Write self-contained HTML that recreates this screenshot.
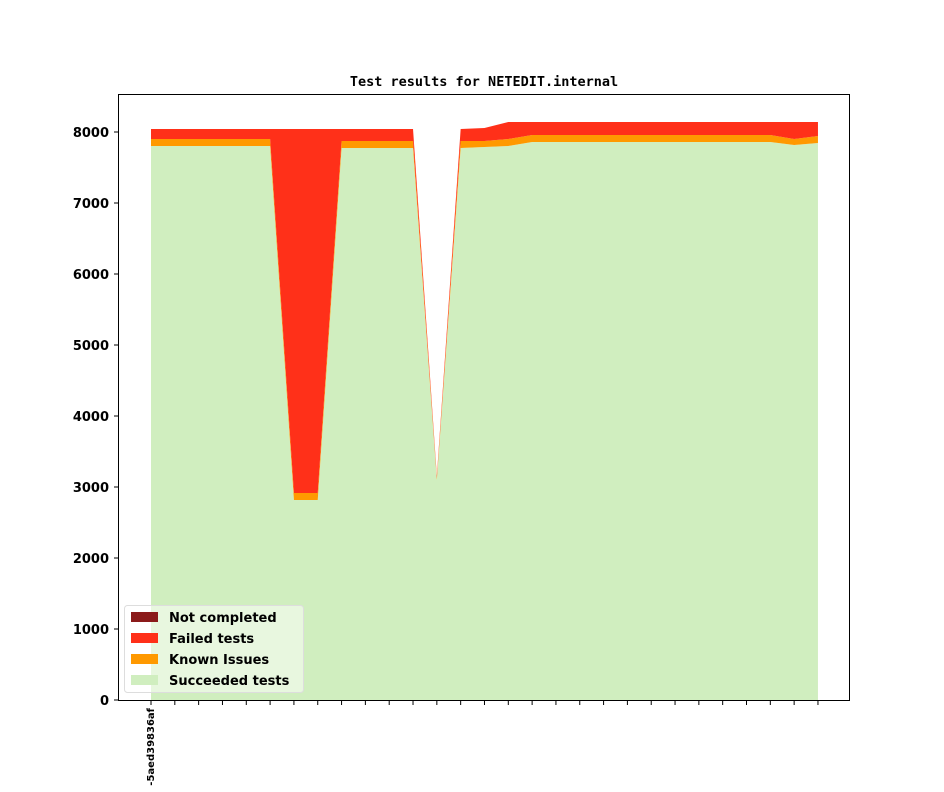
<!DOCTYPE html>
<html><head><style>body{margin:0;background:#fff}</style></head><body>
<svg width="944" height="787" xmlns="http://www.w3.org/2000/svg">
<rect width="944" height="787" fill="#fff"/>
<text x="484" y="86" text-anchor="middle" font-family="DejaVu Sans Mono, monospace" font-weight="bold" font-size="13.5">Test results for NETEDIT.internal</text>
<g id="areas"></g>
<rect x="118.5" y="94.5" width="731" height="606" fill="none" stroke="#000" stroke-width="1"/>
<g font-family="DejaVu Sans, sans-serif" font-weight="bold" font-size="13" text-anchor="end">
<text x="109" y="705">0</text><text x="109" y="634">1000</text><text x="109" y="563">2000</text><text x="109" y="492">3000</text><text x="109" y="421">4000</text><text x="109" y="350">5000</text><text x="109" y="279">6000</text><text x="109" y="208">7000</text><text x="109" y="137">8000</text>
</g>
<g stroke="#000" id="yt"></g>
<g stroke="#000" id="xt"></g>
<text transform="translate(154,708) rotate(-90)" text-anchor="end" font-family="DejaVu Sans, sans-serif" font-weight="bold" font-size="10">-5aed39836af</text>
<g font-family="DejaVu Sans, sans-serif" font-weight="bold" font-size="13">
<rect x="124.5" y="605.5" width="179" height="87" rx="3" fill="#fff" fill-opacity="0.5" stroke="#ddd"/>
<rect x="131" y="612" width="27" height="10" fill="#8b1a1a"/><text x="169" y="622">Not completed</text>
<rect x="131" y="633" width="27" height="10" fill="#ff3019"/><text x="169" y="643">Failed tests</text>
<rect x="131" y="654" width="27" height="10" fill="#ff9900"/><text x="169" y="664">Known Issues</text>
<rect x="131" y="675" width="27" height="10" fill="#d0eebf"/><text x="169" y="685">Succeeded tests</text>
</g>
</svg>
<script>
var g=[146,146,146,146,146,146,500,500,148,148,148,148,480,148,147,146,142,142,142,142,142,142,142,142,142,142,142,145,143];
var o=[139,139,139,139,139,139,493,493,141,141,141,141,478,141,141,139,135,135,135,135,135,135,135,135,135,135,135,139,136];
var r=[129,129,129,129,129,129,129,129,129,129,129,129,476,129,128,122,122,122,122,122,122,122,122,122,122,122,122,122,122];
function X(i){return 151+i*23.82}
function band(top,bot,c){var p='';for(var i=0;i<29;i++)p+=X(i)+','+top[i]+' ';for(var i=28;i>=0;i--)p+=X(i)+','+(bot?bot[i]:700)+' ';return '<polygon points="'+p+'" fill="'+c+'"/>'}
document.getElementById('areas').innerHTML=band(g,null,'#d0eebf')+band(o,g,'#ff9900')+band(r,o,'#ff3019');
var yt='';for(var k=0;k<=8;k++){var y=700-k*71;yt+='<line x1="114" x2="118" y1="'+y+'" y2="'+y+'"/>'}
document.getElementById('yt').innerHTML=yt;
var xt='';for(var i=0;i<29;i++){xt+='<line x1="'+X(i)+'" x2="'+X(i)+'" y1="701" y2="705"/>'}
document.getElementById('xt').innerHTML=xt;
</script>
</body></html>
